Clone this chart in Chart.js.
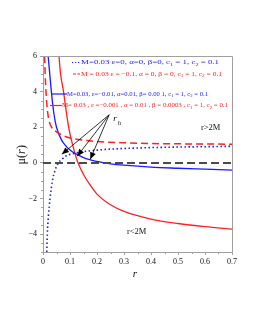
<!DOCTYPE html>
<html>
<head>
<meta charset="utf-8">
<script src="https://cdn.jsdelivr.net/npm/chart.js@4.4.0/dist/chart.umd.min.js"></script>
<style>
  html, body { margin: 0; padding: 0; background: #fff; }
  #wrap { width: 255px; height: 330px; }
</style>
</head>
<body>
<div id="wrap"><canvas id="muChart" width="255" height="330"></canvas></div>
<script>
// values
const rDotted = [0.014, 0.016, 0.02, 0.026, 0.035, 0.045, 0.057, 0.07, 0.089, 0.1, 0.15, 0.2, 0.3, 0.4, 0.5, 0.6, 0.7];
const muDotted = [-5, -4, -3, -2, -1, -0.4, 0, 0.2, 0.43, 0.48, 0.63, 0.72, 0.81, 0.86, 0.89, 0.91, 0.93];

const rDashed = [0.006, 0.008, 0.011, 0.016, 0.022, 0.03, 0.045, 0.064, 0.08, 0.1, 0.15, 0.2, 0.3, 0.4, 0.5, 0.6, 0.7];
const muDashed = [6, 5, 4, 3, 2.4, 2.05, 1.8, 1.62, 1.5, 1.4, 1.27, 1.2, 1.13, 1.09, 1.07, 1.06, 1.05];

const rBlue = [0.019, 0.025, 0.031, 0.04, 0.05, 0.07, 0.082, 0.1, 0.15, 0.2, 0.25, 0.3, 0.4, 0.5, 0.6, 0.7];
const muBlue = [6, 5, 4, 2.8, 2.0, 1.25, 1.0, 0.72, 0.3, 0.08, -0.05, -0.13, -0.24, -0.3, -0.35, -0.4];

const rRed = [0.059, 0.065, 0.076, 0.085, 0.095, 0.11, 0.125, 0.13, 0.15, 0.175, 0.2, 0.25, 0.3, 0.4, 0.5, 0.6, 0.7];
const muRed = [6, 5, 4, 3, 2, 1, 0.2, 0, -0.65, -1.25, -1.75, -2.35, -2.72, -3.15, -3.4, -3.58, -3.72];

const rZero = [0, 0.7];
const muZero = [0, 0];

const xTicks = [0, 0.1, 0.2, 0.3, 0.4, 0.5, 0.6, 0.7];
const yTicks = [-4, -2, 0, 2, 4, 6];

// r_h arrows: where they start and where they point
const arrowFrom = [0.245, 2.7];
const arrowTips = [[0.07, 0.49], [0.127, 0.38], [0.175, 0.2]];

const legendRows = [
  { text: 'M=0.03 ε=0, α=0, β=0, c_1 = 1, c_2 = 0.1', color: '#1a1aff' },
  { text: 'M = 0.03 ε = −0.1, α = 0, β = 0, c_1 = 1, c_2 = 0.1', color: '#ff2020' },
  { text: 'M=0.03, ε=−0.01, α=0.01, β= 0.00 1, c_1 = 1, c_2 = 0.1', color: '#1a1aff' },
  { text: 'M= 0.03 , ε =−0.001 , α = 0.01 , β = 0.0003 , c_1 = 1, c_2 = 0.1', color: '#ff2020' }
];

const SERIF = '"Liberation Serif", "DejaVu Serif", serif';

function pts(xs, ys) {
  return xs.map((x, i) => ({ x: x, y: ys[i] }));
}

// text with _1 style subscripts, squeezed to a given width
function richText(ctx, str, x, y, size, width) {
  const parts = str.split(/(_\d)/).filter(s => s.length);
  let total = 0;
  const sized = parts.map(p => {
    const sub = p[0] === '_';
    const t = sub ? p.slice(1) : p;
    ctx.font = (sub ? size * 0.7 : size) + 'px ' + SERIF;
    const w = ctx.measureText(t).width;
    total += w;
    return { t, sub, w };
  });
  const k = width ? width / total : 1;
  ctx.save();
  ctx.translate(x, y);
  ctx.scale(k, 1);
  let cx = 0;
  ctx.textBaseline = 'middle';
  ctx.textAlign = 'left';
  sized.forEach(s => {
    ctx.font = (s.sub ? size * 0.7 : size) + 'px ' + SERIF;
    ctx.fillText(s.t, cx, s.sub ? size * 0.3 : 0);
    cx += s.w;
  });
  ctx.restore();
}

function arrowHead(ctx, x0, y0, x1, y1) {
  const a = Math.atan2(y1 - y0, x1 - x0);
  const len = 7, half = 3;
  ctx.beginPath();
  ctx.moveTo(x1, y1);
  ctx.lineTo(x1 - len * Math.cos(a) + half * Math.sin(a), y1 - len * Math.sin(a) - half * Math.cos(a));
  ctx.lineTo(x1 - len * Math.cos(a) - half * Math.sin(a), y1 - len * Math.sin(a) + half * Math.cos(a));
  ctx.closePath();
  ctx.fill();
}

const decor = {
  id: 'decor',
  afterDraw(chart) {
    const ctx = chart.ctx;
    const xs = chart.scales.x, ys = chart.scales.y;
    const a = chart.chartArea;
    ctx.save();

    // frame top and right
    ctx.strokeStyle = '#a0a0a0';
    ctx.lineWidth = 1;
    ctx.beginPath();
    ctx.moveTo(a.left, a.top + 0.5);
    ctx.lineTo(a.right + 0.5, a.top + 0.5);
    ctx.lineTo(a.right + 0.5, a.bottom);
    ctx.stroke();

    // minor ticks
    ctx.beginPath();
    for (let i = 0; i < xTicks.length - 1; i++) {
      const px = Math.round(xs.getPixelForValue((xTicks[i] + xTicks[i + 1]) / 2)) + 0.5;
      ctx.moveTo(px, a.bottom);
      ctx.lineTo(px, a.bottom + 2);
    }
    for (let v = -5; v <= 6; v += 0.5) {
      if (yTicks.includes(v)) continue;
      const py = Math.round(ys.getPixelForValue(v)) + 0.5;
      ctx.moveTo(a.left, py);
      ctx.lineTo(a.left - 2, py);
    }
    ctx.stroke();

    // legend
    const rows = [
      { y: 62.5, x0: 72, x1: 80, dash: [1.2, 1.8], tx: 81, w: 138 },
      { y: 74, x0: 73, x1: 80, dash: [3, 1.5], tx: 81, w: 141 },
      { y: 94, x0: 52, x1: 67, dash: [], tx: 67, w: 141 },
      { y: 105.5, x0: 50, x1: 62, dash: [], tx: 62, w: 166 }
    ];
    rows.forEach((r, i) => {
      ctx.strokeStyle = legendRows[i].color;
      ctx.lineWidth = 1.2;
      ctx.setLineDash(r.dash);
      ctx.beginPath();
      ctx.moveTo(r.x0, r.y);
      ctx.lineTo(r.x1, r.y);
      ctx.stroke();
      ctx.setLineDash([]);
      ctx.fillStyle = legendRows[i].color;
      richText(ctx, legendRows[i].text, r.tx, r.y, i < 2 ? 7 : 6.2, r.w);
    });

    // r_h arrows
    ctx.strokeStyle = '#000';
    ctx.fillStyle = '#000';
    ctx.lineWidth = 0.8;
    const fx = xs.getPixelForValue(arrowFrom[0]), fy = ys.getPixelForValue(arrowFrom[1]);
    arrowTips.forEach(t => {
      const tx = xs.getPixelForValue(t[0]), ty = ys.getPixelForValue(t[1]);
      ctx.beginPath();
      ctx.moveTo(fx, fy);
      ctx.lineTo(tx, ty);
      ctx.stroke();
      arrowHead(ctx, fx, fy, tx, ty);
    });
    ctx.font = 'italic 9px ' + SERIF;
    ctx.textBaseline = 'alphabetic';
    ctx.fillText('r', fx + 4, fy + 6);
    ctx.font = 'italic 6.5px ' + SERIF;
    ctx.fillText('h', fx + 8.5, fy + 10);

    // region labels
    ctx.font = '8.5px ' + SERIF;
    ctx.fillStyle = '#111';
    ctx.textBaseline = 'middle';
    ctx.fillText('r>2M', 201, 127.5);
    ctx.fillText('r<2M', 127, 232);

    // axis titles
    ctx.font = 'italic 11px ' + SERIF;
    ctx.textAlign = 'center';
    ctx.fillText('r', 135, 274);
    ctx.translate(22, 155);
    ctx.rotate(-Math.PI / 2);
    ctx.font = '12px ' + SERIF;
    ctx.textAlign = 'right';
    ctx.fillText('μ(', 1, 0);
    ctx.font = 'italic 12px ' + SERIF;
    ctx.textAlign = 'left';
    ctx.fillText('r', 1, 0);
    ctx.font = '12px ' + SERIF;
    ctx.fillText(')', 6, 0);
    ctx.restore();
  }
};

const ctx = document.getElementById('muChart').getContext('2d');

new Chart(ctx, {
  type: 'scatter',
  data: {
    datasets: [
      { data: pts(rZero, muZero), showLine: true, borderColor: '#4a4a4a', borderWidth: 2, borderDash: [8, 4], pointRadius: 0 },
      { data: pts(rDotted, muDotted), showLine: true, borderColor: '#1a1aff', borderWidth: 1.6, borderDash: [1.5, 2.5], pointRadius: 0, cubicInterpolationMode: 'monotone' },
      { data: pts(rDashed, muDashed), showLine: true, borderColor: '#ff2020', borderWidth: 1.5, borderDash: [7, 4], pointRadius: 0, cubicInterpolationMode: 'monotone' },
      { data: pts(rBlue, muBlue), showLine: true, borderColor: '#1a1aff', borderWidth: 1.3, pointRadius: 0, cubicInterpolationMode: 'monotone' },
      { data: pts(rRed, muRed), showLine: true, borderColor: '#ff2020', borderWidth: 1.3, pointRadius: 0, cubicInterpolationMode: 'monotone' }
    ]
  },
  options: {
    responsive: false,
    animation: false,
    events: [],
    layout: { padding: { left: 0, right: 23, top: 56, bottom: 0 } },
    plugins: { legend: { display: false }, tooltip: { enabled: false } },
    scales: {
      x: {
        type: 'linear', min: 0, max: 0.7,
        afterFit: s => { s.height = 78; },
        afterBuildTicks: s => { s.ticks = xTicks.map(v => ({ value: v })); },
        grid: { drawOnChartArea: false, drawTicks: true, tickLength: 3, color: '#a0a0a0' },
        border: { display: true, color: '#a0a0a0' },
        ticks: { font: { family: SERIF, size: 8 }, color: '#111', padding: 2, maxRotation: 0,
          callback: v => String(v) }
      },
      y: {
        type: 'linear', min: -5, max: 6,
        afterFit: s => { s.width = 43; },
        afterBuildTicks: s => { s.ticks = yTicks.map(v => ({ value: v })); },
        grid: { drawOnChartArea: false, drawTicks: true, tickLength: 3, color: '#a0a0a0' },
        border: { display: true, color: '#a0a0a0' },
        ticks: { font: { family: SERIF, size: 8 }, color: '#111', padding: 3,
          callback: v => String(v).replace('-', '−') }
      }
    }
  },
  plugins: [decor]
});
</script>
</body>
</html>
